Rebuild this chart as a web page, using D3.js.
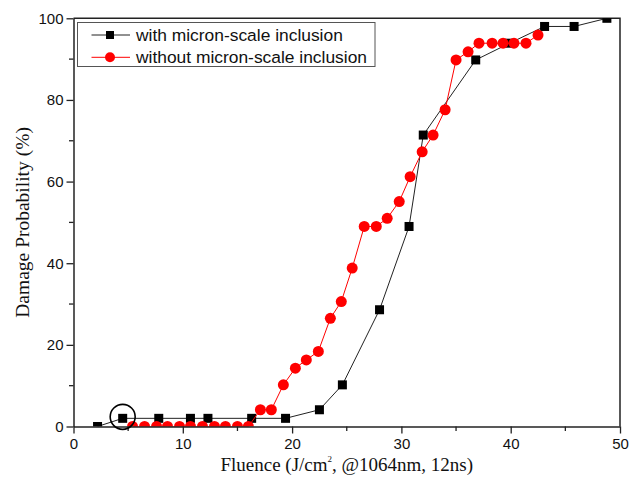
<!DOCTYPE html>
<html>
<head>
<meta charset="utf-8">
<script src="https://cdn.jsdelivr.net/npm/d3@7"></script>
<style>
  body { margin: 0; background: #fff; }
  svg { display: block; }
</style>
</head>
<body>
<svg width="637" height="485"></svg>
<script>
// with micron-scale inclusion (black squares)
const withX = [2.2, 4.5, 7.8, 10.7, 12.3, 16.3, 19.4, 22.5, 24.6, 28.0, 30.7, 32.0, 36.8, 39.9, 43.1, 45.8, 48.8];
const withY = [0, 2, 2, 2, 2, 2, 2, 4.1, 10.2, 28.6, 49, 71.4, 89.8, 93.9, 98, 98, 100];

// without micron-scale inclusion (red circles)
const withoutX = [5.4, 6.5, 7.6, 8.6, 9.7, 10.7, 11.8, 12.9, 13.9, 15.0, 16.0,
  17.1, 18.1, 19.2, 20.3, 21.3, 22.4, 23.5, 24.5, 25.5, 26.6, 27.7, 28.7, 29.8,
  30.8, 31.9, 32.9, 34.0, 35.0, 36.1, 37.1, 38.3, 39.3, 40.3, 41.4, 42.5];
const withoutY = [0, 0, 0, 0, 0, 0, 0, 0, 0, 0, 0,
  4.1, 4.1, 10.2, 14.3, 16.3, 18.4, 26.5, 30.6, 38.8, 49, 49, 51, 55.1,
  61.2, 67.3, 71.4, 77.6, 89.8, 91.8, 93.9, 93.9, 93.9, 93.9, 93.9, 95.9];

const xTicks = [0, 10, 20, 30, 40, 50];
const yTicks = [0, 20, 40, 60, 80, 100];
const seriesNames = ['with micron-scale inclusion', 'without micron-scale inclusion'];
const circledPoint = [4.5, 2];

const svg = d3.select('svg');
const margin = {left: 73.5, right: 17, top: 18.3, bottom: 58.5};
const width = +svg.attr('width');
const height = +svg.attr('height');

const x = d3.scaleLinear().domain([0, 50]).range([margin.left, width - margin.right]);
const y = d3.scaleLinear().domain([0, 100]).range([height - margin.bottom, margin.top]);

const sans = 'Arial, "Liberation Sans", sans-serif';
const serif = '"Times New Roman", "Liberation Serif", serif';

// markers are cut at the plot frame
svg.append('defs').append('clipPath')
    .attr('id', 'plot-clip')
  .append('rect')
    .attr('x', x(0)).attr('y', y(100))
    .attr('width', x(50) - x(0)).attr('height', y(0) - y(100));

// frame (top + right)
svg.append('path')
    .attr('d', `M${x(0)},${y(100)}H${x(50)}V${y(0)}`)
    .attr('fill', 'none')
    .attr('stroke', '#222')
    .attr('stroke-width', 1.5);

// series
const withData = withX.map((d, i) => [d, withY[i]]);
const withoutData = withoutX.map((d, i) => [d, withoutY[i]]);
const line = d3.line().x(d => x(d[0])).y(d => y(d[1]));

const plot = svg.append('g').attr('clip-path', 'url(#plot-clip)');

plot.append('path')
    .datum(withData)
    .attr('d', line)
    .attr('fill', 'none')
    .attr('stroke', '#222')
    .attr('stroke-width', 1);

plot.append('g').selectAll('rect')
    .data(withData)
    .join('rect')
        .attr('x', d => x(d[0]) - 4.5)
        .attr('y', d => y(d[1]) - 4.5)
        .attr('width', 9)
        .attr('height', 9)
        .attr('fill', '#000');

plot.append('path')
    .datum(withoutData)
    .attr('d', line)
    .attr('fill', 'none')
    .attr('stroke', '#ff0000')
    .attr('stroke-width', 1);

plot.append('g').selectAll('circle')
    .data(withoutData)
    .join('circle')
        .attr('cx', d => x(d[0]))
        .attr('cy', d => y(d[1]))
        .attr('r', 5.5)
        .attr('fill', '#ff0000');

// x axis
const xAxis = svg.append('g')
    .attr('transform', `translate(0, ${y(0)})`)
    .call(d3.axisBottom(x).tickValues(xTicks).tickSize(7).tickSizeOuter(0).tickPadding(5));
xAxis.append('g').selectAll('line')
    .data(d3.range(5, 50, 10))
    .join('line')
        .attr('x1', d => x(d)).attr('x2', d => x(d))
        .attr('y1', 0).attr('y2', 4.5)
        .attr('stroke', '#222').attr('stroke-width', 1.3);

// y axis
const yAxis = svg.append('g')
    .attr('transform', `translate(${x(0)}, 0)`)
    .call(d3.axisLeft(y).tickValues(yTicks).tickSize(7).tickSizeOuter(0).tickPadding(3));
yAxis.append('g').selectAll('line')
    .data(d3.range(10, 100, 20))
    .join('line')
        .attr('y1', d => y(d)).attr('y2', d => y(d))
        .attr('x1', 0).attr('x2', -4.5)
        .attr('stroke', '#222').attr('stroke-width', 1.3);

[xAxis, yAxis].forEach(a => {
  a.select('.domain').attr('stroke', '#222').attr('stroke-width', 1.5);
  a.selectAll('.tick line').attr('stroke', '#222').attr('stroke-width', 1.3);
  a.selectAll('.tick text')
      .attr('fill', '#111')
      .style('font-family', sans)
      .style('font-size', '15px');
});

// axis titles
const xTitle = svg.append('text')
    .attr('x', (x(0) + x(50)) / 2)
    .attr('y', 471)
    .attr('text-anchor', 'middle')
    .style('font-family', serif)
    .style('font-size', '19px')
    .attr('fill', '#111');
xTitle.append('tspan').text('Fluence (J/cm');
xTitle.append('tspan').attr('dy', -9).style('font-size', '9px').text('2');
xTitle.append('tspan').attr('dy', 9).text(', @1064nm, 12ns)');

svg.append('text')
    .attr('transform', `translate(29, ${(y(0) + y(100)) / 2}) rotate(-90)`)
    .attr('text-anchor', 'middle')
    .style('font-family', serif)
    .style('font-size', '19.5px')
    .attr('fill', '#111')
    .text('Damage Probability (%)');

// annotation circle
svg.append('circle')
    .attr('cx', x(circledPoint[0]))
    .attr('cy', y(circledPoint[1]) - 1.5)
    .attr('r', 12.5)
    .attr('fill', 'none')
    .attr('stroke', '#000')
    .attr('stroke-width', 1.6);

// legend
const legend = svg.append('g');
legend.append('rect')
    .attr('x', 77.5).attr('y', 22.5)
    .attr('width', 297.5).attr('height', 44)
    .attr('fill', '#fff')
    .attr('stroke', '#555')
    .attr('stroke-width', 1);

const legendRows = legend.selectAll('g.row')
    .data(seriesNames)
    .join('g')
        .attr('class', 'row')
        .attr('transform', (d, i) => `translate(0, ${35 + i * 22.3})`);

legendRows.append('line')
    .attr('x1', 91.5).attr('x2', 130)
    .attr('stroke', (d, i) => i === 0 ? '#222' : '#ff0000')
    .attr('stroke-width', 1);

legendRows.filter((d, i) => i === 0).append('rect')
    .attr('x', 110 - 4).attr('y', -4)
    .attr('width', 8).attr('height', 8)
    .attr('fill', '#000');

legendRows.filter((d, i) => i === 1).append('circle')
    .attr('cx', 110).attr('r', 5)
    .attr('fill', '#ff0000');

legendRows.append('text')
    .attr('x', 136)
    .attr('dy', '0.35em')
    .style('font-family', sans)
    .style('font-size', '17.4px')
    .attr('fill', '#111')
    .text(d => d);
</script>
</body>
</html>
